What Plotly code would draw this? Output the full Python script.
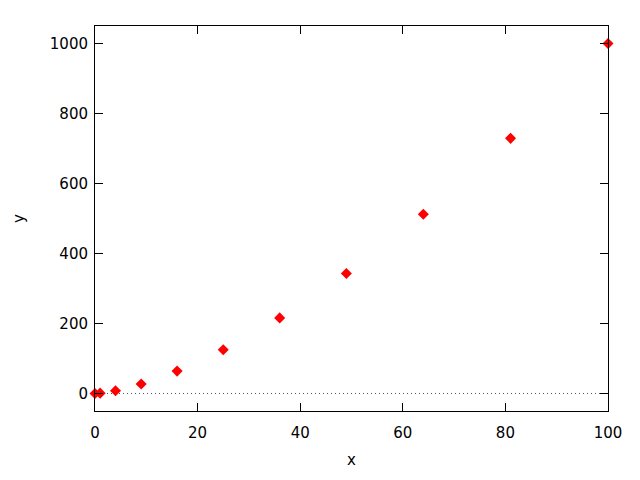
import plotly.graph_objects as go

x_vals = [0, 1, 4, 9, 16, 25, 36, 49, 64, 81, 100]
y_vals = [0, 1, 8, 27, 64, 125, 216, 343, 512, 729, 1000]
x_ticks = [0, 20, 40, 60, 80, 100]
y_ticks = [0, 200, 400, 600, 800, 1000]

fig = go.Figure()
fig.add_trace(go.Scatter(
    x=x_vals, y=y_vals, mode="markers",
    marker=dict(symbol="diamond", size=8.5, color="#ff0000"),
    cliponaxis=False, showlegend=False,
))
fig.add_shape(type="line", xref="paper", x0=0, x1=1, yref="y", y0=0, y1=0,
              line=dict(color="#555555", width=1, dash="1px,3px"), layer="below")

axis_common = dict(
    showgrid=False, zeroline=False, showline=True, linecolor="black", linewidth=1,
    mirror="ticks", ticks="inside", ticklen=8, tickcolor="black", tickwidth=1,
    tickfont=dict(color="black", size=15, family="DejaVu Sans"),
)
fig.update_xaxes(range=[0, 100], tickvals=x_ticks, ticklabelstandoff=8,
                 title=dict(text="x", font=dict(size=15, color="black"), standoff=13), **axis_common)
fig.update_yaxes(range=[-50, 1050], tickvals=y_ticks, ticklabelstandoff=3,
                 title=dict(text="y", font=dict(size=15, color="black"), standoff=21), **axis_common)
fig.update_layout(
    width=640, height=480,
    margin=dict(l=95, r=32, t=26, b=69, autoexpand=False),
    plot_bgcolor="white", paper_bgcolor="white",
    font=dict(family="DejaVu Sans", color="black"),
)
fig.write_html("out.html", config={"displayModeBar": False},
               post_script="document.body.style.margin='0';")
